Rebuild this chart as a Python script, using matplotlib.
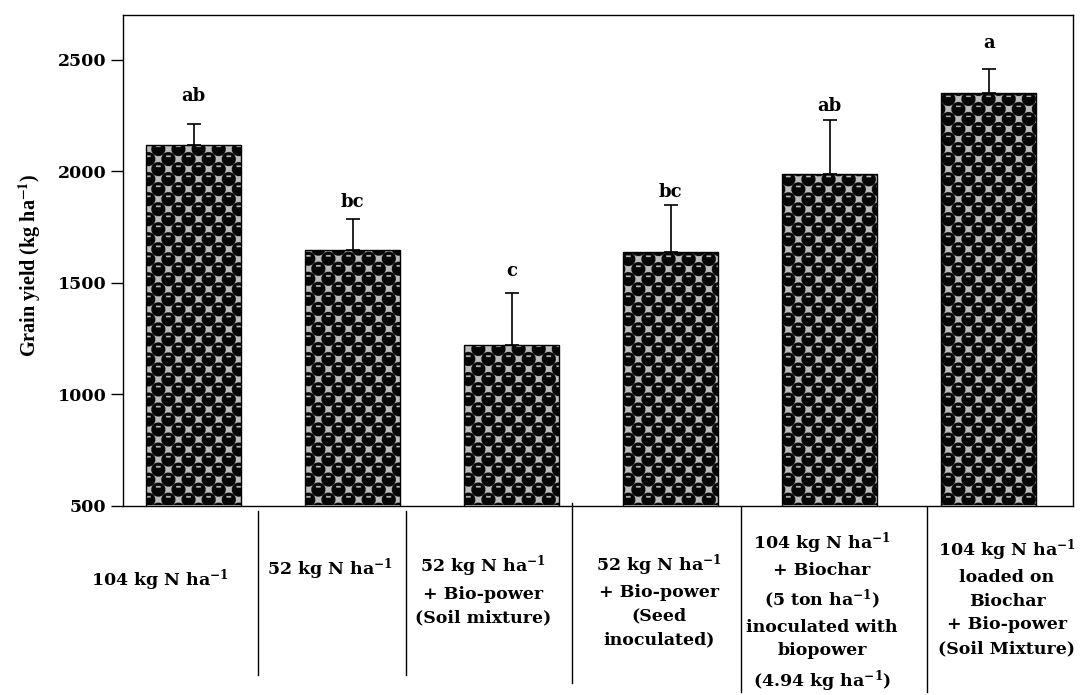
import numpy as np
import matplotlib
matplotlib.use('Agg')
import matplotlib.pyplot as plt
from matplotlib.lines import Line2D

# data
treatments = [
    '104 kg N ha$^{\\mathbf{-1}}$',
    '52 kg N ha$^{\\mathbf{-1}}$',
    '52 kg N ha$^{\\mathbf{-1}}$\n+ Bio-power\n(Soil mixture)',
    '52 kg N ha$^{\\mathbf{-1}}$\n+ Bio-power\n(Seed\ninoculated)',
    '104 kg N ha$^{\\mathbf{-1}}$\n+ Biochar\n(5 ton ha$^{\\mathbf{-1}}$)\ninoculated with\nbiopower\n(4.94 kg ha$^{\\mathbf{-1}}$)',
    '104 kg N ha$^{\\mathbf{-1}}$\nloaded on\nBiochar\n+ Bio-power\n(Soil Mixture)',
]
grain_yield = [2117, 1644, 1219, 1637, 1988, 2350]
yield_se = [94, 142, 234, 212, 241, 108]
letters = ['ab', 'bc', 'c', 'bc', 'ab', 'a']
letter_y = [2313, 1837, 1530, 1882, 2271, 2554]
y_ticks = [500, 1000, 1500, 2000, 2500]

plt.rcParams['font.weight'] = 'bold'

W, H = 1087, 695
fig = plt.figure(figsize=(W / 100, H / 100), dpi=100)
ax = fig.add_axes([123.3 / W, 1 - 505.5 / H, (1073 - 123.3) / W, (505.5 - 15) / H])

x = np.arange(len(grain_yield))
xlim = (-0.443, 5.53)
ylim = (500, 2700)
ax.set_xlim(xlim)
ax.set_ylim(ylim)

bars = ax.bar(x, grain_yield, width=0.6, color='#b4b4b4', linewidth=0, zorder=2)

# checker texture (black blobs / grey squares), built in screen pixels
bb = ax.get_window_extent()
s = 3
nx, ny = int(bb.width * s), int(bb.height * s)
X, Y = np.meshgrid((np.arange(nx) + 0.5) / s, (np.arange(ny) + 0.5) / s)
cell = 10.0
a = np.round((X + Y - cell) / (2 * cell))
b = np.round((X - Y) / (2 * cell))
cx = cell / 2 + cell * (a + b)
cy = cell / 2 + cell * (a - b)
dark = np.hypot(X - cx, Y - cy) < 7.0
dash = (np.abs(X - cx) < 2.4) & (np.abs(Y - (cy - 2.8)) < 0.7)
dark = dark & ~dash
tex = np.where(dark[..., None], np.array([0.02, 0.02, 0.02]), np.array([0.74, 0.74, 0.74]))

for bar in bars:
    im = ax.imshow(tex, extent=(xlim[0], xlim[1], ylim[0], ylim[1]), origin='upper',
                   aspect='auto', interpolation='antialiased', zorder=2.5)
    im.set_clip_path(bar)

ax.bar(x, grain_yield, width=0.6, fill=False, edgecolor='black', linewidth=1, zorder=3)
ax.errorbar(x, grain_yield, yerr=[np.zeros(len(yield_se)), yield_se], fmt='none',
            ecolor='black', elinewidth=1.2, capsize=5, capthick=1.2, zorder=4)

for xi, ly, let in zip(x, letter_y, letters):
    ax.text(xi, ly, let, ha='center', va='baseline', fontsize=13,
            fontweight='bold', family='DejaVu Serif')

ax.set_xlim(xlim)
ax.set_ylim(ylim)
ax.set_xticks([])
ax.set_yticks(y_ticks)
ax.tick_params(axis='y', direction='out', length=9, width=1, pad=3)
for lbl in ax.get_yticklabels():
    lbl.set_family('DejaVu Serif')
    lbl.set_fontweight('bold')
    lbl.set_fontsize(12.5)
for sp in ax.spines.values():
    sp.set_linewidth(1)

fig.text(30 / W, 1 - 265 / H, 'Grain yield (kg ha$^{\\mathbf{-1}}$)', rotation=90,
         ha='center', va='center', fontsize=14.5, family='Liberation Serif',
         fontweight='bold', math_fontfamily='stix')

# treatment labels under the axis
label_pos = [(160, 580), (330, 569), (483, 590), (659, 600), (822, 612), (1007, 597)]
for (px, py), lab in zip(label_pos, treatments):
    fig.text(px / W, 1 - py / H, lab, ha='center', va='center', multialignment='center',
             fontsize=12.5, family='DejaVu Serif', fontweight='bold',
             math_fontfamily='dejavuserif', linespacing=1.5)

# separator lines between the labels
seps = [(258, 511, 675), (406, 511, 675), (572, 503, 683), (741, 507, 692), (927, 507, 692)]
for sx, y0, y1 in seps:
    fig.add_artist(Line2D([sx / W, sx / W], [1 - y0 / H, 1 - y1 / H],
                          transform=fig.transFigure, color='black', linewidth=1))

fig.savefig('out.png', dpi=100)
